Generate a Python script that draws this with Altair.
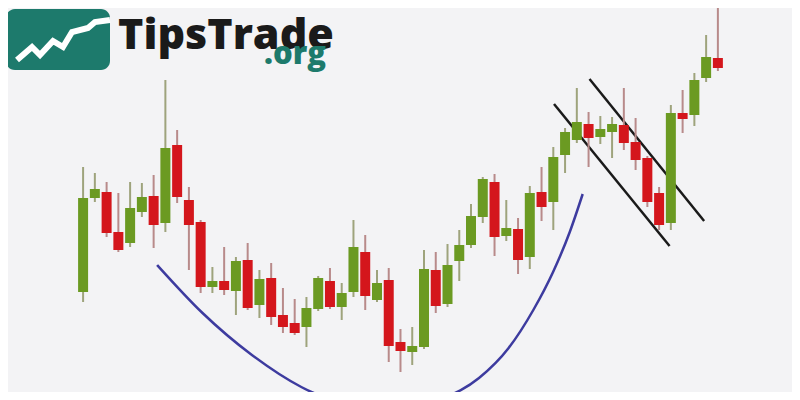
import altair as alt
import pandas as pd

# ---- candle data (price units) ----
body_top = [198,189,192,232,208,197,196,148,145,200,222,281,281,261,260,279,278,315,323,308,
            278,281,293,247,252,283,280,342,346,269,270,265,245,216,179,182,228,229,193,192,
            157,132,122,124,129,124,125,142,158,193,113,113,80,57,58]
body_bot = [292,198,233,250,243,212,225,223,197,225,287,287,290,291,308,305,317,327,333,327,
            309,307,307,292,296,300,346,351,352,347,306,304,261,245,217,237,236,260,257,207,
            202,155,140,138,137,132,143,160,202,225,223,119,115,78,68]
wick_top = [167,173,182,193,182,183,175,80,130,187,220,267,247,257,243,270,263,288,299,297,
            276,268,283,220,235,270,268,329,327,250,252,244,230,204,177,174,200,218,186,167,
            147,128,88,112,116,117,88,118,156,187,105,90,73,35,8]
wick_bot = [302,202,237,252,247,217,248,232,203,270,293,293,295,315,310,318,325,333,335,347,
            311,309,320,297,310,302,362,372,365,349,313,307,281,248,223,256,241,274,269,221,
            230,173,143,167,144,158,150,170,207,230,230,133,126,82,71]
direction = list("UUDDUUDUDDDUDUDUDDDUUDUUDUDDUUDUUUUDUDUDUUUDUUDDDDUDUUD")

BASE = 400
rows = []
for i in range(len(body_top)):
    up = direction[i] == "U"
    hi_body, lo_body = BASE - body_top[i], BASE - body_bot[i]
    rows.append(dict(
        t=i,
        open=lo_body if up else hi_body,
        close=hi_body if up else lo_body,
        high=BASE - wick_top[i],
        low=BASE - wick_bot[i],
        dir="up" if up else "down",
    ))
df = pd.DataFrame(rows)

# cup curve (time index, price)
cup_t = [6.30, 10.16, 14.36, 18.56, 21.08, 25.70, 30.32, 33.68, 36.20, 38.30, 39.98, 41.40, 42.50]
cup_p = [135, 87, 45, 13, 0, -15, 0, 22, 52, 90, 128, 168, 206]
cup = pd.DataFrame({"t": cup_t, "p": cup_p})

# flag channel lines
flag = pd.DataFrame({
    "t": [40.06, 49.89, 43.08, 52.83],
    "p": [296, 154, 321, 179],
    "g": ["a", "a", "b", "b"],
})

# logo zigzag (pixel coordinates of logo artwork)
zz = pd.DataFrame({
    "x": [9, 24, 32, 45, 55, 64, 80, 87, 102],
    "y": [52, 39, 47, 33, 39, 24, 20, 14, 12],
    "o": list(range(9)),
})

W, H = 784, 384
xs = alt.Scale(domain=[-5.963, 59.88], nice=False, zero=False)
ys = alt.Scale(domain=[8, 392], nice=False, zero=False)

GREEN, RED = "#6b9a22", "#d4161c"
is_up = alt.datum.dir == "up"

wicks = alt.Chart(df).mark_rule(strokeWidth=2).encode(
    x=alt.X("t:Q", scale=xs, axis=None),
    y=alt.Y("low:Q", scale=ys, axis=None),
    y2="high:Q",
    color=alt.condition(is_up, alt.value("#9ea37c"), alt.value("#b88a8a")),
)
bodies = alt.Chart(df).mark_bar(size=10).encode(
    x=alt.X("t:Q", scale=xs, axis=None),
    y=alt.Y("open:Q", scale=ys, axis=None),
    y2="close:Q",
    color=alt.condition(is_up, alt.value(GREEN), alt.value(RED)),
)
cup_line = alt.Chart(cup).mark_line(color="#3d3b9f", strokeWidth=2.5, interpolate="monotone", clip=True).encode(
    x=alt.X("t:Q", scale=xs, axis=None),
    y=alt.Y("p:Q", scale=ys, axis=None),
)
flag_lines = alt.Chart(flag).mark_line(color="#1a1a1a", strokeWidth=2.5).encode(
    x=alt.X("t:Q", scale=xs, axis=None),
    y=alt.Y("p:Q", scale=ys, axis=None),
    detail="g:N",
)

TEAL = "#1d7a6c"
logo_box = alt.Chart(pd.DataFrame({"a": [0]})).mark_rect(color=TEAL, cornerRadius=9).encode(
    x=alt.value(-2), x2=alt.value(102), y=alt.value(1), y2=alt.value(62)
)
logo_zz = alt.Chart(zz).mark_line(color="white", strokeWidth=6, strokeJoin="miter", strokeCap="butt").encode(
    x=alt.X("x:Q", scale=None), y=alt.Y("y:Q", scale=None), order="o:Q"
)
logo_txt = alt.Chart(pd.DataFrame({"a": [0]})).mark_text(
    text="TipsTrade", font="Open Sans", fontWeight=800, fontSize=43, color="#1a1a1a",
    align="left", baseline="alphabetic"
).encode(x=alt.value(110), y=alt.value(41))
logo_org = alt.Chart(pd.DataFrame({"a": [0]})).mark_text(
    text=".org", font="Open Sans", fontWeight=800, fontSize=31, color=TEAL,
    align="left", baseline="alphabetic"
).encode(x=alt.value(256), y=alt.value(56))

chart = alt.layer(cup_line, flag_lines, wicks, bodies, logo_box, logo_zz, logo_txt, logo_org).properties(
    width=W, height=H, padding=0, autosize=alt.AutoSizeParams(type="none"), background="#f3f3f5"
).configure_view(stroke=None)

chart.save("out.html", embed_options={"renderer": "svg", "actions": False})
